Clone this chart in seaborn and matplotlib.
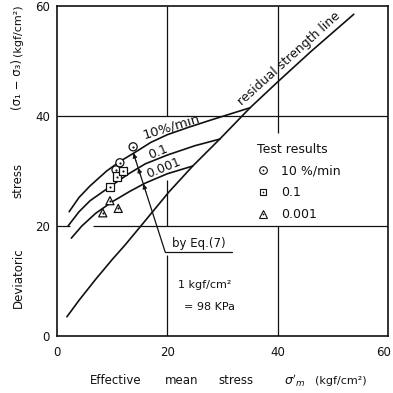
import matplotlib
matplotlib.use("Agg")
import matplotlib.pyplot as plt
import matplotlib.transforms as mtransforms
import numpy as np
import pandas as pd
import seaborn as sns
from matplotlib.lines import Line2D

sns.set_theme(style="white")
plt.rcParams["font.family"] = ["DejaVu Sans"]

# Test results (effective mean stress, deviatoric stress) per strain rate
rate_labels = ["10 %/min", "0.1", "0.001"]
circle_x = [10.7, 11.4, 13.8]
circle_y = [30.2, 31.5, 34.4]
square_x = [9.6, 10.8, 12.0]
square_y = [27.1, 29.0, 30.0]
tri_x = [8.3, 9.6, 11.1]
tri_y = [22.4, 24.6, 23.2]

# Strength curves by Eq.(7)
eq_10_x = [2.2, 4.0, 6.0, 9.0, 11.5, 14.0, 17.0, 20.0, 24.0, 28.0, 31.5, 35.0]
eq_10_y = [22.6, 25.2, 27.3, 30.0, 31.8, 33.3, 35.2, 36.6, 38.0, 39.3, 40.4, 41.5]
eq_01_x = [2.0, 4.0, 6.0, 9.4, 13.0, 16.0, 20.0, 25.0, 29.5]
eq_01_y = [20.0, 22.6, 24.6, 27.0, 29.5, 31.3, 32.9, 34.6, 35.8]
eq_0001_x = [2.6, 4.5, 7.0, 10.0, 13.2, 16.0, 20.0, 24.6]
eq_0001_y = [17.8, 20.0, 22.3, 24.4, 26.3, 27.8, 29.5, 30.9]

# Residual strength line
res_x = [1.8, 4.0, 7.0, 10.0, 12.3, 15.2, 20.3, 24.6, 29.5, 35.0, 40.0, 46.0, 53.8]
res_y = [3.5, 6.5, 10.3, 13.9, 16.5, 20.0, 26.2, 30.9, 35.8, 41.5, 46.2, 51.7, 58.5]

axis_ticks = [0, 20, 40, 60]

INK = "#111111"

fig = plt.figure(figsize=(3.93, 3.93), dpi=100)
ax = fig.add_axes([57 / 393, 57 / 393, 331 / 393, 330 / 393])
ax.set_xlim(0, 60)
ax.set_ylim(0, 60)
ax.set_xticks(axis_ticks)
ax.set_yticks(axis_ticks)
ax.set_xticklabels([str(t) for t in axis_ticks])
ax.set_yticklabels([str(t) for t in axis_ticks])
ax.tick_params(axis="both", length=0, labelsize=8.5, colors=INK)
ax.tick_params(axis="x", pad=7)
ax.tick_params(axis="y", pad=5)
# keep the last x tick label inside the canvas
last = ax.get_xticklabels()[-1]
last.set_transform(last.get_transform() + mtransforms.ScaledTranslation(-4 / 100, 0, fig.dpi_scale_trans))
for sp in ax.spines.values():
    sp.set_color(INK)
    sp.set_linewidth(1.2)

# hand-drawn style grid with interruptions behind labels
gkw = dict(color=INK, lw=0.9, zorder=1)
ax.vlines(20, 40, 60, **gkw)
ax.vlines(20, 20, 28.4, **gkw)
ax.vlines(20, 0, 14.8, **gkw)
ax.vlines(40, 37, 60, **gkw)
ax.vlines(40, 0, 20, **gkw)
ax.hlines(40, 0, 60, **gkw)
ax.hlines(20, 0, 2.4, **gkw)
ax.hlines(20, 6.5, 60, **gkw)

# curves
for cx, cy in [(eq_10_x, eq_10_y), (eq_01_x, eq_01_y), (eq_0001_x, eq_0001_y), (res_x, res_y)]:
    sns.lineplot(x=cx, y=cy, ax=ax, color=INK, lw=1.2, estimator=None, zorder=2)

# test points
df = pd.DataFrame({
    "p": circle_x + square_x + tri_x,
    "q": circle_y + square_y + tri_y,
    "rate": [rate_labels[0]] * len(circle_x) + [rate_labels[1]] * len(square_x) + [rate_labels[2]] * len(tri_x),
})
marker_map = {rate_labels[0]: "o", rate_labels[1]: "s", rate_labels[2]: "^"}
sns.scatterplot(data=df, x="p", y="q", style="rate", markers=marker_map, s=34,
                color="white", edgecolor=INK, linewidth=0.9, legend=False, ax=ax, zorder=4)
sns.scatterplot(data=df, x="p", y="q", s=2.5, color=INK, linewidth=0, legend=False, ax=ax, zorder=5)
ax.set_xlabel("")
ax.set_ylabel("")

# curve labels
ax.text(20.8, 38.0, "10%/min", rotation=17, ha="center", va="center", fontsize=9.5, color=INK, zorder=3)
ax.text(18.4, 33.5, "0.1", rotation=22, ha="center", va="center", fontsize=9, color=INK, zorder=3)
ax.text(19.3, 30.6, "0.001", rotation=22, ha="center", va="center", fontsize=9, color=INK, zorder=3)

# leader for "by Eq.(7)" with arrowheads where it meets each curve
base = np.array([19.6, 15.3])
direction = np.array([-5.7, 17.8])
t = np.linspace(0, 1.2, 4001)
lx = base[0] + direction[0] * t
ly = base[1] + direction[1] * t
tips = []
for cx, cy in [(eq_10_x, eq_10_y), (eq_01_x, eq_01_y), (eq_0001_x, eq_0001_y)]:
    diff = ly - np.interp(lx, cx, cy)
    i = np.argmax(diff >= 0)
    tips.append((lx[i], ly[i]))
top = tips[0]
ax.plot([base[0], top[0]], [base[1], top[1]], color=INK, lw=0.9, zorder=3)
ax.plot([base[0], 31.7], [base[1], base[1]], color=INK, lw=0.9, zorder=3)
for tx, ty in tips:
    ax.annotate("", xy=(tx, ty), xytext=(tx - direction[0] * 0.08, ty - direction[1] * 0.08),
                arrowprops=dict(arrowstyle="-|>", color=INK, lw=0.6, mutation_scale=7,
                                shrinkA=0, shrinkB=0), zorder=3)
ax.text(20.9, 15.7, "by Eq.(7)", ha="left", va="bottom", fontsize=8.5, color=INK)

ax.text(21.9, 9.3, "1 kgf/cm²", ha="left", va="center", fontsize=8, color=INK)
ax.text(23.0, 5.3, "= 98 KPa", ha="left", va="center", fontsize=8, color=INK)

# residual strength line label
lab_x = 43.2
lab_y = float(np.interp(lab_x, res_x, res_y))
ax.text(lab_x - 0.3, lab_y + 0.4, "residual strength line", rotation=42, rotation_mode="anchor",
        ha="center", va="bottom", fontsize=9, color=INK)

# legend
handles = []
for m, ms in [("o", 5.5), ("s", 5.0), ("^", 6.0)]:
    h1 = Line2D([], [], ls="none", marker=m, ms=ms, mfc="white", mec=INK, mew=0.8)
    h2 = Line2D([], [], ls="none", marker="o", ms=1.3, mfc=INK, mec=INK, mew=0)
    handles.append((h1, h2))
leg = ax.legend(handles, rate_labels, title="Test results", loc="upper left",
                bbox_to_anchor=(0.604, 0.585), frameon=False, fontsize=9, title_fontsize=9,
                handlelength=1.0, handletextpad=0.9, labelspacing=0.7, borderpad=0,
                borderaxespad=0, alignment="left")
for txt in leg.get_texts():
    txt.set_color(INK)
leg.get_title().set_color(INK)

# axis titles
def fx(px):
    return px / 393

def fy(py):
    return 1 - py / 393

xl_y = fy(381)
fig.text(fx(90), xl_y, "Effective", ha="left", va="center", fontsize=8.5, color=INK)
fig.text(fx(165), xl_y, "mean", ha="left", va="center", fontsize=8.5, color=INK)
fig.text(fx(218), xl_y, "stress", ha="left", va="center", fontsize=8.5, color=INK)
fig.text(fx(284), xl_y, r"$\sigma'_m$", ha="left", va="center", fontsize=9, color=INK)
fig.text(fx(315), xl_y, "(kgf/cm²)", ha="left", va="center", fontsize=8, color=INK)

yl_x = fx(18)
fig.text(yl_x, fy(278), "Deviatoric", rotation=90, ha="center", va="center", fontsize=8.5, color=INK)
fig.text(yl_x, fy(180), "stress", rotation=90, ha="center", va="center", fontsize=8.5, color=INK)
fig.text(yl_x, fy(84), "(σ₁ − σ₃)", rotation=90, ha="center", va="center", fontsize=8.5, color=INK)
fig.text(yl_x, fy(30), "(kgf/cm²)", rotation=90, ha="center", va="center", fontsize=8, color=INK)

fig.savefig("out.png", dpi=100, facecolor="white")
